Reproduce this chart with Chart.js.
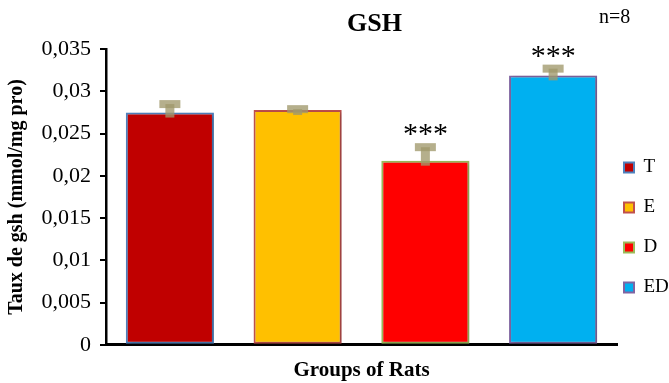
<!DOCTYPE html>
<html>
<head>
<meta charset="utf-8">
<script src="https://cdn.jsdelivr.net/npm/chart.js@4.4.1/dist/chart.umd.min.js"></script>
<style>
  html, body { margin: 0; padding: 0; background: #ffffff; }
  #wrap { width: 669px; height: 383px; }
</style>
</head>
<body>
<div id="wrap"><canvas id="c" width="669" height="383"></canvas></div>
<script>
// Groups of rats and their mean GSH level (mmol/mg protein)
const groups = ['T', 'E', 'D', 'ED'];
const gshMeans = [0.0275, 0.0278, 0.0218, 0.0319];
const gshErrors = [0.0010, 0.0001, 0.0016, 0.0008];
const significance = ['', '', '***', '***'];
const yTickLabels = ['0', '0,005', '0,01', '0,015', '0,02', '0,025', '0,03', '0,035'];

const fillColors = ['#C00000', '#FFC000', '#FF0000', '#00B0F0'];
const borderColors = ['#4F81BD', '#C0504D', '#9BBB59', '#8064A2'];

const SERIF = '"Liberation Serif", "Times New Roman", serif';

// Error bars, significance stars and the sample size note
const annotate = {
  id: 'annotate',
  afterLayout(chart) {
    const lg = chart.legend;
    const pad = lg.options.labels.padding;
    const dx = (chart.chartArea.right + 7) - (lg.left + pad);
    lg.left += dx;
    lg.right = chart.width;
    lg.width = lg.right - lg.left;
    const dy = 137 - lg.top;
    lg.top += dy; lg.bottom += dy;
    const tb = chart.titleBlock;
    tb.left += 13; tb.right += 13;
  },
  beforeDatasetsDraw(chart) {
    const ctx = chart.ctx;
    ctx.save();
    ctx.shadowColor = 'rgba(0,0,0,0.22)';
    ctx.shadowBlur = 4;
    ctx.shadowOffsetX = 2;
    ctx.shadowOffsetY = 1;
  },
  afterDatasetsDraw(chart) {
    const ctx = chart.ctx;
    ctx.restore();
    const y = chart.scales.y;
    const meta = chart.getDatasetMeta(0);
    ctx.save();
    meta.data.forEach((bar, i) => {
      const top = y.getPixelForValue(gshMeans[i] + gshErrors[i]);
      const base = bar.y + 5;
      ctx.fillStyle = 'rgba(160,152,108,0.78)';
      // stem
      ctx.fillRect(bar.x - 4.5, top, 9, base - top);
      // cap
      ctx.fillRect(bar.x - 10.5, top - 4, 21, 8);
      if (significance[i]) {
        ctx.fillStyle = '#000';
        ctx.font = '30px ' + SERIF;
        ctx.textAlign = 'center';
        ctx.textBaseline = 'alphabetic';
        ctx.fillText(significance[i], bar.x, top - 4);
      }
    });
    ctx.restore();
  },
  afterDraw(chart) {
    const ctx = chart.ctx;
    ctx.save();
    ctx.fillStyle = '#000';
    ctx.font = '20px ' + SERIF;
    ctx.textAlign = 'left';
    ctx.textBaseline = 'middle';
    ctx.fillText('n=8', 599, 18);
    ctx.restore();
  }
};

new Chart(document.getElementById('c'), {
  type: 'bar',
  data: {
    labels: groups,
    datasets: [{
      label: 'GSH',
      data: gshMeans,
      backgroundColor: fillColors,
      borderColor: borderColors,
      borderWidth: 2,
      borderSkipped: false,
      categoryPercentage: 1.0,
      barPercentage: 0.69
    }]
  },
  plugins: [annotate],
  options: {
    responsive: false,
    animation: false,
    events: [],
    layout: { padding: 0 },
    scales: {
      x: {
        grid: { display: false, drawTicks: false },
        border: { display: true, color: '#000', width: 3 },
        ticks: { display: false },
        title: {
          display: true,
          text: 'Groups of Rats',
          color: '#000',
          font: { family: SERIF, size: 21, weight: 'bold' },
          padding: { top: 13, bottom: 0 }
        }
      },
      y: {
        min: 0,
        max: 0.035,
        afterFit(scale) { scale.width = 106; },
        grid: {
          drawOnChartArea: false,
          drawTicks: true,
          tickLength: 6,
          color: '#000',
          lineWidth: 2
        },
        border: { display: true, color: '#000', width: 2.5 },
        ticks: {
          stepSize: 0.005,
          padding: 9,
          color: '#000',
          font: { family: SERIF, size: 22 },
          callback: (v, i) => yTickLabels[i]
        },
        title: {
          display: true,
          text: 'Taux de gsh (mmol/mg pro)',
          color: '#000',
          font: { family: SERIF, size: 20, weight: 'bold' },
          padding: { top: 5, bottom: 0 }
        }
      }
    },
    plugins: {
      tooltip: { enabled: false },
      title: {
        display: true,
        text: 'GSH',
        fullSize: false,
        color: '#000',
        font: { family: SERIF, size: 26, weight: 'bold' },
        padding: { top: 9, bottom: 9 }
      },
      legend: {
        position: 'right',
        align: 'start',
        fullSize: false,
        maxWidth: 52,
        labels: {
          boxWidth: 10,
          boxHeight: 10,
          padding: 21,
          color: '#000',
          font: { family: SERIF, size: 19 },
          generateLabels: () => groups.map((g, i) => ({
            text: g,
            fillStyle: fillColors[i],
            strokeStyle: borderColors[i],
            lineWidth: 2,
            hidden: false,
            index: i,
            datasetIndex: 0,
            fontColor: '#000'
          }))
        }
      }
    }
  }
});
</script>
</body>
</html>
